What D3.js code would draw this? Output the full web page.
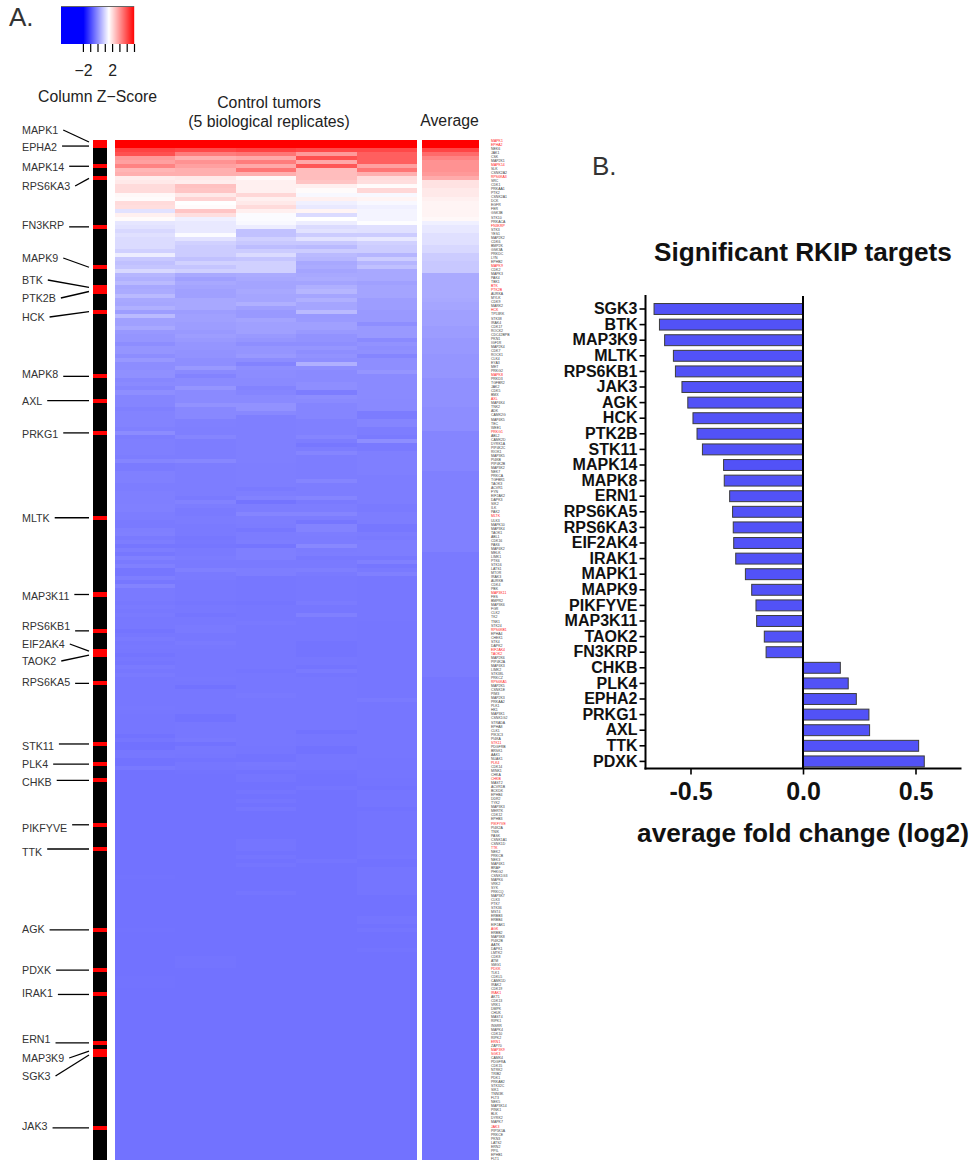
<!DOCTYPE html>
<html>
<head>
<meta charset="utf-8">
<script src="https://cdn.jsdelivr.net/npm/d3@7"></script>
<style>
  html, body { margin: 0; padding: 0; background: #fff; overflow: hidden; }
  text { font-family: "Liberation Sans", Arial, sans-serif; }
</style>
</head>
<body>
<div id="chart"></div>
<script>
// Kinase names down the heatmap, top to bottom
const geneLabels = [
  "MAPK1","EPHA2","NEK6","JAK1","CSK","MAP2K1","MAPK14","SLK","CSNK2A2","RPS6KA3",
  "SRC","CDK1","PRKAA1","PTK2","CSNK2A1","DCK","EGFR","FER","GSK3B","STK10",
  "PRKACA","FN3KRP","STK3","YES1","MAP2K2","CDK6","BMP2K","GSK3A","PRKDC","LYN",
  "EPHB2","MAPK9","CDK2","MAPK3","PAK4","TBK1","BTK","PTK2B","AURKA","MYLK",
  "CDK9","MARK2","HCK","TP53RK","STK38","IRAK4","CDK17","ROCK2","CDC42BPB","PKN1",
  "IGF1R","MAP2K4","CDK7","ROCK1","CLK4","EYA3","MET","PRKG2","MAPK8","PRKD3",
  "TGFBR2","JAK2","CDK5","BMX","AXL","MAP4K4","TNK2","ADK","CAMK2G","MAP4K5",
  "TEC","WEE1","PRKG1","ABL2","CAMK2D","DYRK1A","PIP4K2C","RIOK1","MAP3K5","PI4KB",
  "PIP4K2B","MAP3K2","NEK7","PRKCA","TGFBR1","TAOK3","ACVR1","FYN","EIF2AK2","DAPK3",
  "SIK2","ILK","PAK2","MLTK","ULK3","MAPK10","MAP3K4","TAOK1","ABL1","CDK16",
  "PAK6","MAP4K2","MELK","LIMK1","PTK6","STK16","LATS1","MTOR","IRAK3","AURKB",
  "CDK4","PBK","MAP3K11","FES","BMPR2","MAP3K6","FGR","CLK2","TK2","TNK1",
  "STK24","RPS6KB1","EPHA4","CHEK1","STK4","DAPK2","EIF2AK4","TAOK2","MAP2K6","PIP4K2A",
  "MAP4K3","LIMK2","STK38L","PRKCZ","RPS6KA5","MAP2K5","CSNK1E","PIM3","MAP2K3","PRKAA2",
  "PLK1","HK1","MAP3K1","CSNK1G2","STRADA","EPHA8","CLK1","PIK3C3","PI4KA","STK11",
  "PDGFRB","BRSK1","AAK1","NUAK1","PLK4","CDK14","MINK1","CHKA","CHKB","MAST2",
  "ACVR1B","BCKDK","EPHB4","DDR2","TYK2","MAP3K3","MERTK","CDK12","EPHB3","PIKFYVE",
  "PI4K2A","TNIK","PASK","CSNK1A1","CSNK1D","TTK","NEK2","PRKCB","NEK3","MAP4K1",
  "BRAF","PHKG2","CSNK1G3","MAPK6","VRK2","SYK","PRKCQ","MAP3K7","CLK3","PTK7",
  "STK36","MST4","ERBB3","ERBB4","EIF2AK1","AGK","ERBB2","MAP3K8","PI4K2B","AATK",
  "DAPK1","LMTK2","CDK8","ATM","SMG1","PDXK","TLK1","CDKL5","CAMK1D","IRAK2",
  "CDK19","IRAK1","AKT1","CDK13","VRK1","DMPK","CHUK","MAST4","RIPK1","INSRR",
  "MAPK4","CDK10","RIPK2","ERN1","ZAP70","MAP3K9","SGK3","CAMK4","PDGFRA","CDK15",
  "NTRK2","TRIB2","PDK1","PRKAB2","STK32C","SIK1","TNNI3K","FLT3","NEK5","MAP3K14",
  "PINK1","BLK","DYRK2","MAPK7","JAK3","PIP5K1A","PRKCE","PKN3","LATS2","ERN2",
  "PPIL","EPHB1","FLT1"
];

// Z-scores, one array per column
const replicate1 = [
  5,5,4.1,3.9,2.9,2.8,3.2,2.5,2.6,1.75,
  1.8,2,2,1.6,1.55,2,1.95,1.1,1.7,1.55,
  1.15,1.1,.97,1.08,1,1,1,.85,1.25,.75,
  .64,.7,.97,.5,.42,.55,.3,.35,.55,.31,
  .28,.42,.15,.55,.2,.2,.31,.09,.05,.05,
  -.06,.05,.05,-.06,.09,-.06,-.06,-.02,-.02,-.15,
  -.1,-.18,-.05,-.18,-.18,-.18,-.24,-.2,-.2,-.2,
  -.2,-.24,-.08,-.29,-.26,-.26,-.26,-.26,-.29,-.18,
  -.31,-.31,-.24,-.24,-.24,-.29,-.29,-.26,-.26,-.26,
  -.24,-.24,-.29,-.29,-.33,-.33,-.26,-.24,-.33,
  -.29,-.38,-.29,-.36,-.24,-.33,-.24,-.38,-.38,-.27,
  -.36,-.2,-.33,-.33,-.33,-.35,-.33,-.35,-.33,-.35,
  -.35,-.35,-.41,-.36,-.33,-.36,-.35,-.36,-.41,-.36,
  -.39,-.33,-.36,-.33,-.37,-.37,-.37,-.37,-.37,-.37,
  -.37,-.35,-.37,-.38,-.38,-.38,-.38,-.38,-.44,-.38,
  -.45,-.45,-.36,-.36,-.43,-.43,-.34,-.43,-.44,
  -.44,-.44,-.44,-.44,-.44,-.44,-.44,-.44,-.44,-.44,
  -.44,-.44,-.44,-.44,-.44,-.44,-.44,-.44,-.44,-.44,
  -.44,-.44,-.44,-.44,-.42,-.44,-.44,-.44,-.44,-.44,
  -.44,-.44,-.44,-.44,-.44,-.44,-.44,-.42,-.44,-.44,
  -.44,-.44,-.44,-.44,-.44,-.44,-.44,-.44,-.44,-.42,
  -.42,-.42,-.44,-.44,-.44,-.44,-.44,-.44,-.44,-.44,
  -.44,-.44,-.44,-.44,-.44,-.44,-.44,-.44,-.44,-.44,
  -.44,-.44,-.44,-.44,-.44,-.44,-.44,-.44,-.44,-.44,
  -.44,-.44,-.44,-.44,-.44,-.44,-.44,-.44,-.44,-.44,
  -.44,-.44,-.44,-.44,-.44
];
const replicate2 = [
  5,5,4,3.3,2.6,3,2.8,2.6,2.6,1.8,
  1.75,2.35,2.3,1.8,2.1,1.5,1.55,2.3,1.95,1.3,
  1.2,1.2,1.2,1.45,1.1,.87,.8,.8,.8,.65,
  .87,.7,.85,.32,.2,.3,.25,.2,.2,.3,
  .3,.3,.15,.2,.2,.15,.15,.1,.15,.1,
  .05,.05,0,0,-.05,-.05,.1,-.1,-.2,-.1,
  -.1,.05,-.1,-.1,-.1,0,-.13,-.13,-.13,-.24,
  -.24,-.26,-.26,-.18,-.29,-.29,-.29,-.29,-.29,-.15,
  -.28,-.28,-.28,-.28,-.28,-.28,-.28,-.28,-.33,-.22,
  -.28,-.32,-.32,-.3,-.3,-.33,-.33,-.33,-.37,
  -.35,-.38,-.33,-.33,-.3,-.33,-.33,-.24,-.33,-.33,
  -.35,-.35,-.35,-.35,-.35,-.38,-.35,-.35,-.4,-.35,
  -.35,-.33,-.33,-.36,-.36,-.33,-.35,-.36,-.36,-.36,
  -.36,-.36,-.36,-.36,-.35,-.36,-.43,-.36,-.36,-.37,
  -.37,-.37,-.37,-.44,-.44,-.37,-.37,-.37,-.36,-.34,
  -.44,-.36,-.36,-.38,-.42,-.38,-.38,-.42,-.44,
  -.44,-.44,-.44,-.44,-.44,-.44,-.44,-.44,-.44,-.44,
  -.44,-.44,-.44,-.44,-.44,-.44,-.44,-.44,-.44,-.44,
  -.44,-.44,-.44,-.44,-.44,-.44,-.44,-.44,-.44,-.44,
  -.44,-.44,-.44,-.44,-.44,-.44,-.44,-.44,-.44,-.44,
  -.44,-.44,-.44,-.44,-.41,-.41,-.41,-.44,-.44,-.44,
  -.44,-.44,-.44,-.44,-.44,-.44,-.44,-.44,-.44,-.44,
  -.44,-.44,-.44,-.44,-.44,-.44,-.44,-.44,-.44,-.44,
  -.44,-.44,-.44,-.44,-.44,-.44,-.44,-.44,-.44,-.44,
  -.44,-.44,-.44,-.44,-.44,-.44,-.44,-.44,-.44,-.44,
  -.44,-.44,-.44,-.44,-.44
];
const replicate3 = [
  5,5,4.1,3.4,2.7,3.3,2.7,3.4,2.6,1.6,
  1.7,1.7,1.7,2.05,1.7,1.8,2,1.7,1.45,1.45,
  1.4,1.25,.65,.65,.85,.75,.6,.8,1,.7,
  .85,.85,.85,.35,.3,.25,.25,.3,.27,.27,
  .42,.2,.1,.1,.25,.2,.2,.2,.1,.05,
  -.05,.05,.05,.1,-.06,-.2,-.05,-.08,-.08,-.1,
  -.1,-.2,-.18,-.1,-.1,0,0,-.13,-.26,-.26,
  -.26,-.26,-.26,-.26,-.26,-.26,-.26,-.26,-.26,-.26,
  -.27,-.27,-.27,-.27,-.27,-.27,-.33,-.27,-.22,-.41,
  -.28,-.28,-.18,-.28,-.28,-.3,-.36,-.3,-.3,
  -.28,-.4,-.26,-.26,-.26,-.33,-.33,-.27,-.27,-.36,
  -.36,-.36,-.36,-.36,-.36,-.4,-.36,-.36,-.36,-.36,
  -.34,-.36,-.36,-.36,-.36,-.36,-.36,-.36,-.36,-.36,
  -.37,-.36,-.4,-.37,-.37,-.37,-.37,-.37,-.34,-.37,
  -.37,-.37,-.37,-.37,-.37,-.37,-.37,-.37,-.37,-.37,
  -.37,-.38,-.38,-.42,-.42,-.35,-.36,-.43,-.39,
  -.39,-.44,-.44,-.39,-.44,-.39,-.44,-.38,-.44,-.44,
  -.44,-.44,-.44,-.44,-.44,-.39,-.39,-.39,-.44,-.39,
  -.44,-.39,-.44,-.44,-.44,-.44,-.44,-.44,-.39,-.44,
  -.44,-.44,-.44,-.44,-.44,-.44,-.44,-.44,-.44,-.44,
  -.44,-.44,-.44,-.44,-.44,-.44,-.44,-.44,-.44,-.44,
  -.44,-.44,-.44,-.44,-.44,-.44,-.44,-.44,-.44,-.44,
  -.44,-.44,-.44,-.44,-.44,-.44,-.44,-.44,-.44,-.44,
  -.44,-.44,-.44,-.44,-.44,-.44,-.44,-.44,-.44,-.44,
  -.44,-.44,-.44,-.44,-.44,-.44,-.44,-.44,-.44,-.44,
  -.44,-.44,-.44,-.44,-.44
];
const replicate4 = [
  5,5,4,2.9,3.9,2.7,3.8,2.4,2.4,2.4,
  2.3,1.7,1.55,1.4,1.7,1.3,1.2,1.65,1,1.5,
  1.25,1,1.1,.8,1.1,.75,.55,.8,.55,.5,
  .3,.35,.25,.3,.35,.25,.4,.5,.27,.42,
  .27,.27,.55,.1,.12,.2,.2,.1,0,0,
  -.05,.05,-.05,0,-.05,.42,-.05,-.1,-.1,-.1,
  -.05,-.05,-.29,-.06,-.1,-.18,-.18,-.18,-.18,-.24,
  -.24,-.24,-.24,-.18,-.28,-.36,-.28,-.18,-.28,-.28,
  -.28,-.28,-.28,-.28,-.18,-.28,-.28,-.28,-.18,-.32,
  -.28,-.28,-.18,-.28,-.38,-.2,-.2,-.28,-.3,
  -.3,-.13,-.3,-.28,-.35,-.33,-.33,-.26,-.33,-.35,
  -.35,-.35,-.35,-.35,-.35,-.31,-.36,-.36,-.24,-.36,
  -.36,-.36,-.36,-.36,-.36,-.41,-.41,-.41,-.41,-.37,
  -.37,-.41,-.33,-.4,-.37,-.37,-.37,-.37,-.37,-.37,
  -.37,-.37,-.37,-.37,-.37,-.37,-.37,-.43,-.38,-.38,
  -.38,-.43,-.43,-.38,-.38,-.38,-.38,-.42,-.44,
  -.44,-.44,-.39,-.44,-.44,-.44,-.44,-.44,-.44,-.44,
  -.44,-.44,-.44,-.44,-.44,-.44,-.44,-.44,-.44,-.44,
  -.39,-.44,-.44,-.44,-.44,-.44,-.44,-.44,-.44,-.44,
  -.44,-.44,-.44,-.44,-.44,-.44,-.44,-.44,-.44,-.44,
  -.44,-.44,-.44,-.44,-.44,-.44,-.44,-.44,-.44,-.44,
  -.44,-.44,-.44,-.44,-.44,-.44,-.44,-.44,-.44,-.44,
  -.44,-.44,-.44,-.44,-.44,-.44,-.44,-.44,-.44,-.44,
  -.44,-.44,-.44,-.44,-.44,-.44,-.44,-.44,-.44,-.44,
  -.44,-.44,-.44,-.44,-.44,-.44,-.44,-.44,-.44,-.44,
  -.44,-.44,-.44,-.44,-.44
];
const replicate5 = [
  5,5,4,3.7,3.7,3.7,2.8,3.4,2.6,2,
  1.95,1.55,2.05,1.4,1.65,1.4,1.3,1.35,1.35,1.35,
  1.47,1.08,1.08,.8,1.18,.87,.8,.8,.48,.8,
  .48,.64,.31,.31,.31,.2,.25,.25,.25,.15,
  .15,.15,.1,.1,.1,-.05,.1,.1,.1,-.1,
  0,-.05,-.03,-.18,-.05,-.05,-.05,.05,-.1,-.1,
  -.1,-.1,-.1,-.1,-.12,-.12,-.12,-.3,-.3,-.18,
  -.18,-.28,-.28,-.33,-.05,-.33,-.33,-.26,-.26,-.26,
  -.26,-.26,-.26,-.29,-.29,-.29,-.29,-.29,-.29,-.29,
  -.33,-.33,-.29,-.29,-.29,-.37,-.37,-.3,-.33,
  -.28,-.28,-.28,-.28,-.35,-.24,-.38,-.33,-.24,-.36,
  -.37,-.37,-.37,-.37,-.37,-.37,-.37,-.37,-.37,-.37,
  -.38,-.38,-.38,-.38,-.38,-.38,-.38,-.38,-.38,-.38,
  -.38,-.38,-.38,-.38,-.38,-.38,-.38,-.38,-.38,-.33,
  -.38,-.38,-.38,-.38,-.38,-.38,-.38,-.38,-.38,-.38,
  -.38,-.38,-.38,-.38,-.4,-.4,-.4,-.4,-.4,
  -.41,-.41,-.44,-.39,-.39,-.39,-.39,-.44,-.41,-.41,
  -.41,-.41,-.41,-.41,-.41,-.41,-.41,-.41,-.41,-.39,
  -.44,-.44,-.39,-.39,-.39,-.39,-.39,-.39,-.39,-.44,
  -.44,-.44,-.44,-.44,-.39,-.39,-.44,-.39,-.44,-.44,
  -.44,-.44,-.41,-.44,-.44,-.44,-.44,-.44,-.44,-.44,
  -.44,-.44,-.44,-.44,-.44,-.44,-.44,-.44,-.44,-.44,
  -.44,-.44,-.44,-.44,-.44,-.44,-.44,-.44,-.44,-.44,
  -.44,-.44,-.44,-.44,-.44,-.44,-.44,-.44,-.44,-.44,
  -.44,-.44,-.44,-.44,-.44,-.44,-.44,-.44,-.44,-.44,
  -.44,-.44,-.44,-.44,-.44
];
const average = [
  5,5,4.05,3.55,3.2,3,3,3,2.9,2.65,
  1.9,1.9,1.8,1.8,1.7,1.65,1.65,1.65,1.65,1.6,
  1.3,1.18,1.18,1.07,1.07,1.07,.96,.96,.8,.8,
  .75,.75,.75,.33,.33,.33,.33,.33,.33,.31,
  .26,.26,.2,.2,.2,.2,.14,.14,.14,.09,
  .09,.09,.09,.04,.04,.04,.04,.04,.04,-.02,
  -.02,-.02,-.02,-.02,-.02,-.02,-.07,-.07,-.07,-.07,
  -.07,-.07,-.18,-.18,-.18,-.18,-.18,-.18,-.18,-.18,
  -.18,-.18,-.24,-.24,-.24,-.24,-.24,-.24,-.24,-.24,
  -.24,-.24,-.24,-.24,-.24,-.24,-.24,-.24,-.24,
  -.24,-.24,-.24,-.33,-.33,-.33,-.33,-.33,-.33,-.33,
  -.33,-.33,-.33,-.33,-.33,-.33,-.33,-.33,-.33,-.33,
  -.33,-.33,-.33,-.33,-.33,-.33,-.33,-.33,-.33,-.33,
  -.33,-.33,-.33,-.33,-.38,-.38,-.38,-.38,-.38,-.38,
  -.38,-.38,-.38,-.38,-.38,-.38,-.38,-.38,-.38,-.38,
  -.38,-.38,-.38,-.38,-.38,-.38,-.38,-.44,-.44,
  -.44,-.44,-.44,-.44,-.44,-.44,-.44,-.44,-.44,-.44,
  -.44,-.44,-.44,-.44,-.44,-.44,-.44,-.44,-.44,-.44,
  -.44,-.44,-.44,-.44,-.44,-.44,-.44,-.44,-.44,-.44,
  -.44,-.44,-.44,-.44,-.44,-.44,-.44,-.44,-.44,-.44,
  -.44,-.44,-.44,-.44,-.44,-.44,-.44,-.44,-.44,-.44,
  -.44,-.44,-.44,-.44,-.44,-.44,-.44,-.44,-.44,-.44,
  -.44,-.44,-.44,-.44,-.44,-.44,-.44,-.44,-.44,-.44,
  -.44,-.44,-.44,-.44,-.44,-.44,-.44,-.44,-.44,-.44,
  -.44,-.44,-.44,-.44,-.44,-.44,-.44,-.44,-.44,-.44,
  -.44,-.44,-.44,-.44,-.44
];

// Panel B, same order as the bars
const targets = ["SGK3","BTK","MAP3K9","MLTK","RPS6KB1","JAK3","AGK","HCK","PTK2B","STK11",
  "MAPK14","MAPK8","ERN1","RPS6KA5","RPS6KA3","EIF2AK4","IRAK1","MAPK1","MAPK9","PIKFYVE",
  "MAP3K11","TAOK2","FN3KRP","CHKB","PLK4","EPHA2","PRKG1","AXL","TTK","PDXK"];
const foldChange = [-.662,-.638,-.615,-.576,-.567,-.538,-.512,-.489,-.471,-.447,
  -.353,-.35,-.326,-.313,-.31,-.308,-.299,-.256,-.228,-.209,
  -.206,-.172,-.164,.166,.201,.237,.293,.296,.514,.539];

// Callouts on the left of panel A, top to bottom
const calloutNames = ["MAPK1","EPHA2","MAPK14","RPS6KA3","FN3KRP","MAPK9","BTK","PTK2B","HCK","MAPK8",
  "AXL","PRKG1","MLTK","MAP3K11","RPS6KB1","EIF2AK4","TAOK2","RPS6KA5","STK11","PLK4",
  "CHKB","PIKFYVE","TTK","AGK","PDXK","IRAK1","ERN1","MAP3K9","SGK3","JAK3"];
const calloutTextY = [130,147,167,186,225,258,280,298,317,374,
  401,434,518,596,626,644,661,682,746,764,
  782,828,852,929,970,993,1039,1058,1076,1126];

const legendTicks = [-2,-1,0,1,2,3,4,5];
const xTicks = [-.5,0,.5];

const svg = d3.select("#chart").append("svg")
  .attr("width", 971)
  .attr("height", 1160)
  .style("display", "block");

const color = d3.scaleLinear()
  .domain([-2, 1.5, 5])
  .range(["#0000ff", "#ffffff", "#ff0000"])
  .clamp(true);

const targetSet = new Set(targets);
const rowY = d3.scaleBand()
  .domain(d3.range(geneLabels.length))
  .range([140, 140 + geneLabels.length * 4.04]);

// ---- panel letters and headers
svg.append("text").attr("x", 9).attr("y", 26).attr("font-size", 26).attr("fill", "#333").text("A.");
svg.append("text").attr("x", 592).attr("y", 175).attr("font-size", 26).attr("fill", "#333").text("B.");

const header = svg.append("g").attr("font-size", 15.8).attr("fill", "#222").attr("text-anchor", "middle");
header.append("text").attr("x", 269).attr("y", 108).text("Control tumors");
header.append("text").attr("x", 269).attr("y", 127).text("(5 biological replicates)");
header.append("text").attr("x", 449.5).attr("y", 126).text("Average");

// ---- colour key
const keyX = d3.scaleLinear().domain([-5, 5]).range([61, 134]);
svg.append("g").selectAll("rect")
  .data(d3.range(-5, 5, 0.137))
  .join("rect")
  .attr("x", d => keyX(d))
  .attr("y", 6)
  .attr("width", 1.2)
  .attr("height", 38)
  .attr("fill", d => color(d));
svg.append("line").attr("x1", 61).attr("x2", 134).attr("y1", 6.5).attr("y2", 6.5).attr("stroke", "#666");

const keyAxis = svg.append("g")
  .attr("transform", "translate(0,44)")
  .call(d3.axisBottom(keyX)
    .tickValues(legendTicks)
    .tickSize(8)
    .tickPadding(13)
    .tickFormat(d => d === -2 ? "\u22122" : d === 2 ? "2" : ""));
keyAxis.select(".domain").remove();
keyAxis.selectAll("line").attr("stroke", "#000").attr("stroke-width", 1.2);
keyAxis.selectAll("text").attr("font-size", 15.8).attr("fill", "#222").attr("font-family", null);

svg.append("text")
  .attr("x", 97.5).attr("y", 102)
  .attr("text-anchor", "middle")
  .attr("font-size", 15.8)
  .attr("fill", "#222")
  .text("Column Z\u2212Score");

// ---- heatmap columns
const repX = d3.scaleBand().domain(d3.range(5)).range([115, 417]);
const drawColumn = (sel, x0, w) => {
  sel.selectAll("rect")
    .data(d => d)
    .join("rect")
    .attr("x", x0)
    .attr("y", (d, i) => rowY(i))
    .attr("width", w)
    .attr("height", rowY.bandwidth())
    .attr("shape-rendering", "crispEdges")
    .attr("fill", d => color(d));
};
svg.append("g").selectAll("g")
  .data([replicate1, replicate2, replicate3, replicate4, replicate5])
  .join("g")
  .each(function (d, i) {
    drawColumn(d3.select(this), repX(i), repX.bandwidth());
  });
svg.append("g").datum(average).call(drawColumn, 421.6, 57.6);

// ---- black bar with the significant targets in red
svg.append("g").selectAll("rect")
  .data(geneLabels)
  .join("rect")
  .attr("x", 93)
  .attr("y", (d, i) => rowY(i))
  .attr("width", 14)
  .attr("height", rowY.bandwidth())
  .attr("shape-rendering", "crispEdges")
  .attr("fill", d => targetSet.has(d) ? "#ff0000" : "#000");

// ---- tiny gene names on the right
svg.append("g").selectAll("text")
  .data(geneLabels)
  .join("text")
  .attr("x", 491)
  .attr("y", (d, i) => rowY(i) + rowY.bandwidth() / 2 - 1.5)
  .attr("dy", "0.35em")
  .attr("font-size", 3.5)
  .attr("fill", d => targetSet.has(d) ? "#ff2020" : "#444")
  .text(d => d);

// ---- callouts
const callouts = svg.append("g");
calloutNames.forEach((name, i) => {
  const ty = calloutTextY[i];
  const label = callouts.append("text")
    .attr("x", 22).attr("y", ty)
    .attr("dy", "0.35em")
    .attr("font-size", 10.7)
    .attr("fill", "#333")
    .text(name);
  const row = geneLabels.indexOf(name);
  const end = rowY(row) + rowY.bandwidth() / 2;
  // nearly level callouts are drawn flat
  const start = Math.abs(end - ty) < 5 ? end : ty;
  callouts.append("line")
    .attr("x1", 22 + label.node().getComputedTextLength() + 5)
    .attr("y1", start)
    .attr("x2", 89)
    .attr("y2", end)
    .attr("stroke", "#000")
    .attr("stroke-width", 1.3);
});

// ---- panel B
svg.append("text")
  .attr("x", 803).attr("y", 261)
  .attr("text-anchor", "middle")
  .attr("font-size", 26.2)
  .attr("font-weight", "bold")
  .attr("fill", "#111")
  .text("Significant RKIP targets");

const x = d3.scaleLinear().domain([-.7, .7]).range([645.5, 960.5]);
const y = d3.scaleBand().domain(targets).range([301.2, 769.2]).paddingInner(.3).paddingOuter(.15);

svg.append("g").selectAll("rect")
  .data(targets)
  .join("rect")
  .attr("x", (d, i) => x(Math.min(0, foldChange[i])))
  .attr("y", d => y(d))
  .attr("width", (d, i) => Math.abs(x(foldChange[i]) - x(0)))
  .attr("height", y.bandwidth())
  .attr("fill", "#5252f7")
  .attr("stroke", "#3c3c3c")
  .attr("stroke-width", 1);

const yAxis = svg.append("g")
  .attr("transform", "translate(645.5,0)")
  .call(d3.axisLeft(y).tickSize(6).tickPadding(2));
yAxis.select(".domain").remove();
yAxis.selectAll("line").attr("stroke", "#000").attr("stroke-width", 1.6);
yAxis.selectAll("text").attr("font-size", 16).attr("font-weight", "bold").attr("font-family", null).attr("fill", "#111");

const xAxis = svg.append("g")
  .attr("transform", "translate(0,768.5)")
  .call(d3.axisBottom(x).tickValues(xTicks).tickSize(6).tickPadding(8).tickFormat(d3.format(".1f")));
xAxis.select(".domain").remove();
xAxis.selectAll("line").attr("stroke", "#000").attr("stroke-width", 1.6);
xAxis.selectAll("text")
  .text(d => d3.format(".1f")(d).replace("\u2212", "-"))
  .attr("font-size", 25).attr("font-weight", "bold").attr("font-family", null).attr("fill", "#111");

// axis lines plus the zero line
const axisLines = svg.append("g").attr("stroke", "#000").attr("stroke-width", 2);
axisLines.append("line").attr("x1", 645.5).attr("x2", 645.5).attr("y1", 295).attr("y2", 769.5);
axisLines.append("line").attr("x1", 644.5).attr("x2", 961.5).attr("y1", 768.5).attr("y2", 768.5);
axisLines.append("line").attr("x1", x(0)).attr("x2", x(0)).attr("y1", 296).attr("y2", 768);

svg.append("text")
  .attr("x", 803).attr("y", 842)
  .attr("text-anchor", "middle")
  .attr("font-size", 26.2)
  .attr("font-weight", "bold")
  .attr("fill", "#111")
  .text("average fold change (log2)");
</script>
</body>
</html>
